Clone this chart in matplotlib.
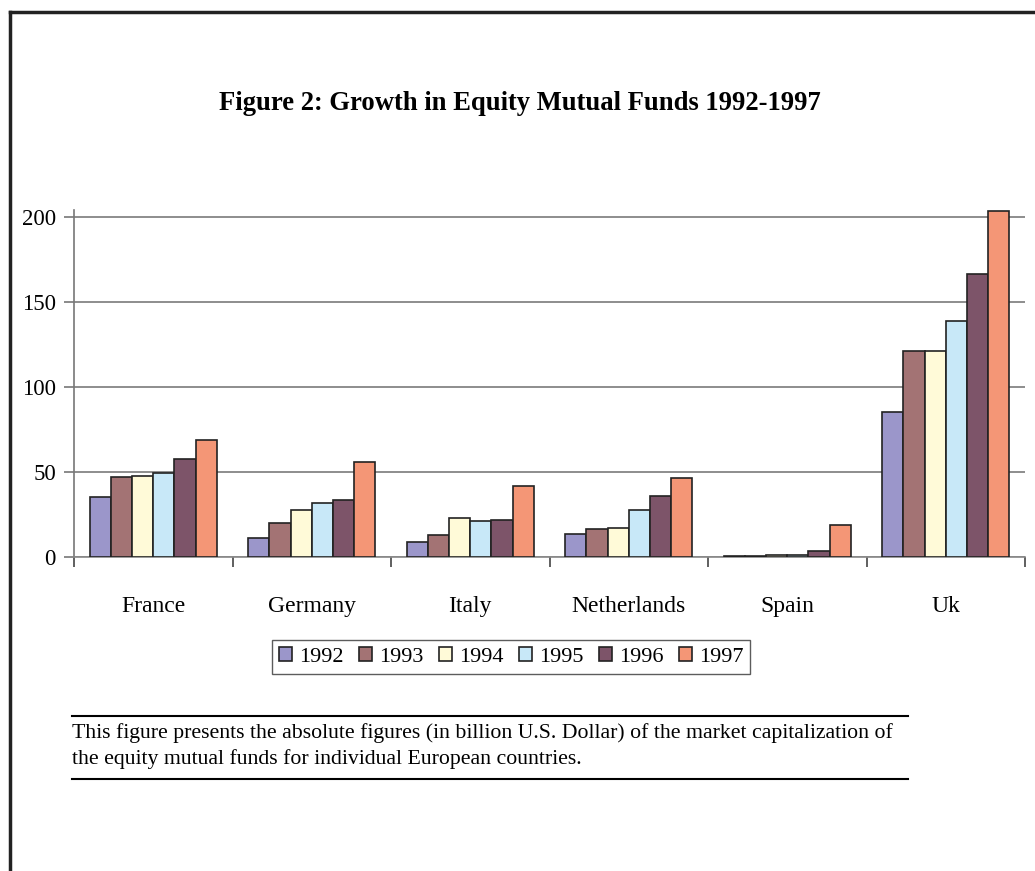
import numpy as np
import matplotlib.pyplot as plt
from matplotlib.lines import Line2D

countries = ["France", "Germany", "Italy", "Netherlands", "Spain", "Uk"]
years = ["1992", "1993", "1994", "1995", "1996", "1997"]

# billion USD; one list per year
v1992 = [35.3, 11.4, 8.6, 13.3, 0.3, 85.1]
v1993 = [47.0, 20.0, 12.9, 16.3, 0.8, 120.9]
v1994 = [47.5, 27.8, 22.7, 17.3, 1.4, 121.4]
v1995 = [49.4, 31.6, 21.4, 27.6, 1.4, 138.8]
v1996 = [57.6, 33.7, 21.6, 35.9, 3.7, 166.4]
v1997 = [68.8, 56.0, 41.6, 46.7, 18.8, 203.3]
series = [v1992, v1993, v1994, v1995, v1996, v1997]

colors = ["#9B96CA", "#A37374", "#FFFAD8", "#C8E8F8", "#7D5469", "#F49676"]

plt.rcParams["font.family"] = ["Liberation Serif", "DejaVu Serif"]

fig = plt.figure(figsize=(10.35, 8.71), dpi=100)
ax = fig.add_axes([74 / 1035, 1 - 557 / 871, (1025 - 74) / 1035, 365 / 871])

x = np.arange(len(countries))
n = len(years)
width = 0.8 / n
for i, (yr, vals) in enumerate(zip(years, series)):
    ax.bar(x - 0.4 + width * (i + 0.5), vals, width, color=colors[i],
           edgecolor="#222222", linewidth=1.2, label=yr, zorder=3)

ax.set_xlim(-0.5, len(countries) - 0.5)
ax.set_ylim(0, 200 * 365 / 340)
ax.set_yticks([0, 50, 100, 150, 200])
ax.yaxis.grid(True, color="#7a7a7a", linewidth=1.2, zorder=0)
ax.set_xticks(np.arange(-0.5, len(countries)), minor=False)
ax.set_xticklabels([])
ax.set_xticks(x, minor=True)
ax.set_xticklabels(countries, minor=True, fontsize=17)
ax.tick_params(axis="x", which="major", length=7, width=1.2, color="#444444")
ax.tick_params(axis="x", which="minor", length=0, pad=28)
ax.tick_params(axis="y", length=7, width=1.2, color="#777777", labelsize=16.5, pad=6)
for s in ["top", "right"]:
    ax.spines[s].set_visible(False)
ax.spines["left"].set_color("#777777")
ax.spines["bottom"].set_color("#888888")
ax.spines["left"].set_linewidth(1.2)
ax.spines["bottom"].set_linewidth(1.2)
ax.spines["left"].set_bounds(0, 204)

leg = ax.legend(loc="center", bbox_to_anchor=(511 / 1035, 1 - 657 / 871),
                bbox_transform=fig.transFigure, ncol=6, fontsize=16,
                frameon=True, fancybox=False, edgecolor="#333333",
                handlelength=0.6, handleheight=0.6, handletextpad=0.3,
                columnspacing=0.7, borderpad=0.3)
leg.get_frame().set_linewidth(1.0)

fig.text(520 / 1035, 1 - 103 / 871, "Figure 2: Growth in Equity Mutual Funds 1992-1997",
         ha="center", va="center", fontsize=19.2, fontweight="bold")

# caption with rules above and below
fig.add_artist(Line2D([72 / 1035, 908 / 1035], [1 - 716 / 871] * 2, color="black", linewidth=1.5))
fig.add_artist(Line2D([72 / 1035, 908 / 1035], [1 - 779 / 871] * 2, color="black", linewidth=1.5))
fig.text(72 / 1035, 1 - 733 / 871,
         "This figure presents the absolute figures (in billion U.S. Dollar) of the market capitalization of",
         ha="left", va="center", fontsize=15.7)
fig.text(72 / 1035, 1 - 759 / 871,
         "the equity mutual funds for individual European countries.",
         ha="left", va="center", fontsize=15.7)

# page frame (left and top edges)
fig.add_artist(Line2D([10 / 1035, 10 / 1035], [0, 1 - 12 / 871], color="#222222", linewidth=2.5))
fig.add_artist(Line2D([10 / 1035, 1], [1 - 12 / 871] * 2, color="#222222", linewidth=2.5))

fig.savefig("out.png", dpi=100)
